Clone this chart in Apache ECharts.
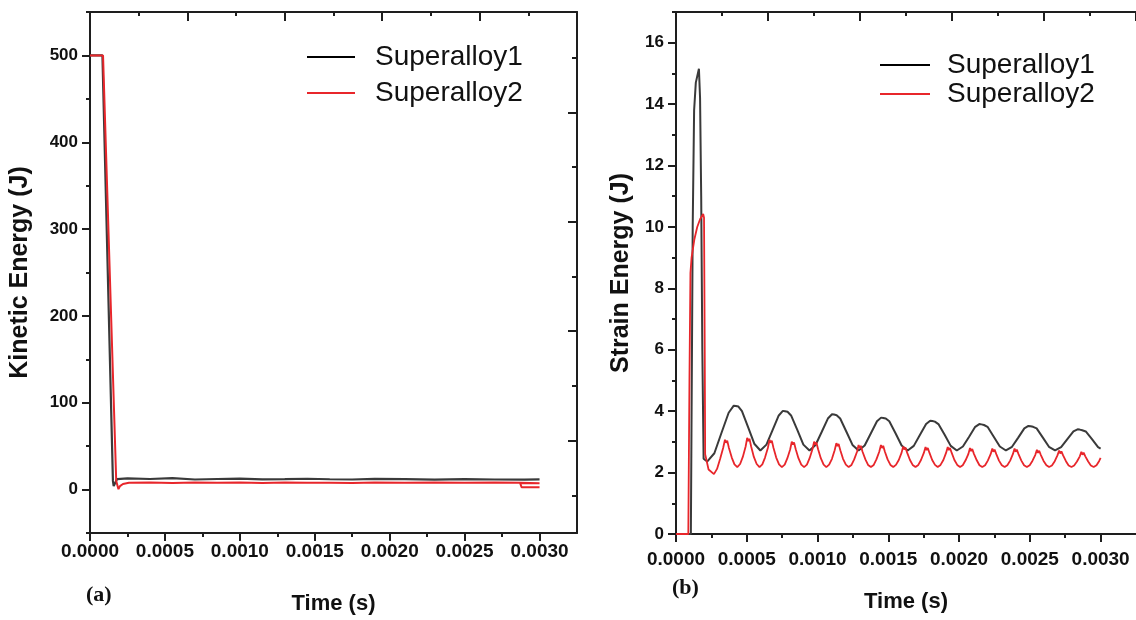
<!DOCTYPE html>
<html>
<head>
<meta charset="utf-8">
<script src="https://cdn.jsdelivr.net/npm/echarts@6/dist/echarts.min.js"></script>
<style>
html,body{margin:0;padding:0;background:#fff;}
#c{width:1136px;height:620px;}
</style>
</head>
<body>
<div id="c"></div>
<script>
// ---------- DATA ----------
const seriesNames = ['Superalloy1', 'Superalloy2'];
const xTickLabels = ['0.0000','0.0005','0.0010','0.0015','0.0020','0.0025','0.0030'];
const xTickValues = [0, 0.0005, 0.001, 0.0015, 0.002, 0.0025, 0.003];
const keTickValues = [0, 100, 200, 300, 400, 500];
const seTickValues = [0, 2, 4, 6, 8, 10, 12, 14, 16];

// (a) Kinetic energy, Superalloy1 [time, J]
const keS1 = [[0,500],[0.000083,500],[0.000153,10],[0.000158,4],[0.000165,3.5],[0.00018,12],[0.00019,12.6],
  [0.00025,12.8],[0.0004,12.2],[0.00055,13.2],[0.0007,11.6],[0.00085,12.2],[0.001,12.6],[0.00115,11.8],
  [0.0013,12.0],[0.00145,12.5],[0.0016,11.9],[0.00175,11.6],[0.0019,12.4],[0.0021,12.1],[0.0023,11.5],
  [0.0025,12.0],[0.0027,11.6],[0.0029,11.4],[0.003,11.8]];
// (a) Kinetic energy, Superalloy2
const keS2 = [[0,500],[0.000087,500],[0.000175,10],[0.00019,0.5],[0.0002,4],[0.00022,6.5],[0.00026,7.8],
  [0.0004,8.2],[0.00055,7.6],[0.0007,8.3],[0.00085,7.8],[0.001,8.1],[0.00115,7.6],[0.0013,8.2],[0.00145,7.9],
  [0.0016,8.0],[0.00175,7.6],[0.0019,8.1],[0.0021,7.8],[0.0023,8.2],[0.0025,7.8],[0.0027,8.1],[0.00287,7.8],
  [0.003,7.4],[0.00287,7.6],[0.00288,2.8],[0.003,2.6]];

// (b) Strain energy, Superalloy1
const seS1 = [[0,0],[0.000105,0],[0.000118,10],[0.000128,13.8],[0.00014,14.7],[0.000162,15.15],[0.00017,14.2],
  [0.000178,11],[0.000186,6],[0.000195,2.45],[0.00022,2.36],
  [0.000271,2.63],[0.000321,3.29],[0.000372,3.95],[0.000408,4.18],[0.000415,4.22],[0.000423,4.17],[0.000431,4.21],[0.000441,4.15],
  [0.000466,4.0],[0.00051,3.47],[0.000553,2.94],[0.000596,2.72],
  [0.000639,2.91],[0.000683,3.39],[0.000726,3.86],[0.000755,4.01],[0.000762,4.05],[0.00077,4.0],[0.000778,4.04],[0.000788,3.98],
  [0.000813,3.86],[0.000857,3.39],[0.0009,2.91],[0.000943,2.72],
  [0.000986,2.9],[0.00103,3.33],[0.001073,3.76],[0.001102,3.9],[0.001109,3.94],[0.001117,3.89],[0.001125,3.93],[0.001135,3.87],
  [0.00116,3.76],[0.001204,3.33],[0.001247,2.9],[0.00129,2.72],
  [0.001333,2.88],[0.001377,3.28],[0.00142,3.67],[0.001449,3.79],[0.001456,3.83],[0.001464,3.78],[0.001472,3.82],[0.001482,3.76],
  [0.001507,3.67],[0.001551,3.28],[0.001594,2.88],[0.001637,2.72],
  [0.00168,2.87],[0.001724,3.23],[0.001767,3.58],[0.001796,3.69],[0.001803,3.73],[0.001811,3.68],[0.001819,3.72],[0.001829,3.66],
  [0.001854,3.58],[0.001898,3.23],[0.001941,2.87],[0.001984,2.72],
  [0.002027,2.85],[0.002071,3.17],[0.002114,3.49],[0.002143,3.58],[0.00215,3.62],[0.002158,3.57],[0.002166,3.61],[0.002176,3.55],
  [0.002201,3.49],[0.002245,3.17],[0.002288,2.85],[0.002331,2.72],
  [0.002374,2.84],[0.002418,3.14],[0.002461,3.44],[0.00249,3.52],[0.002497,3.56],[0.002505,3.51],[0.002513,3.55],[0.002523,3.49],
  [0.002548,3.44],[0.002592,3.14],[0.002635,2.84],[0.002678,2.72],
  [0.002721,2.83],[0.002765,3.09],[0.002808,3.34],[0.002837,3.41],[0.002844,3.45],[0.002852,3.4],[0.00286,3.44],[0.00287,3.38],
  [0.002895,3.34],[0.002939,3.09],[0.002982,2.83],[0.003,2.78]];

// (b) Strain energy, Superalloy2
const seS2 = [[0,0],[0.000087,0],[0.000095,5],[0.000102,8.5],[0.00011,9.0],[0.00013,9.6],[0.00015,10.0],[0.00017,10.25],
  [0.000192,10.42],[0.000198,10.3],[0.000203,6],[0.000206,2.6],[0.00023,2.1],[0.000268,1.95],
  [0.00029,2.12],[0.000312,2.45],[0.000333,2.8],[0.000346,3.07],[0.000354,2.97],[0.000362,3.04],[0.000374,2.8],[0.000394,2.49],[0.000413,2.27],[0.000433,2.18],
  [0.000453,2.28],[0.000472,2.51],[0.000492,2.85],[0.000503,3.13],[0.000511,3.03],[0.000519,3.1],[0.000531,2.85],[0.00055,2.51],[0.00057,2.28],[0.00059,2.18],
  [0.00061,2.27],[0.000629,2.49],[0.000649,2.8],[0.000661,3.07],[0.000669,2.97],[0.000677,3.04],[0.000689,2.8],[0.000708,2.49],[0.000728,2.27],[0.000748,2.18],
  [0.000768,2.26],[0.000787,2.47],[0.000807,2.76],[0.000818,3.01],[0.000826,2.91],[0.000834,2.98],[0.000846,2.76],[0.000865,2.47],[0.000885,2.26],[0.000905,2.18],
  [0.000925,2.26],[0.000944,2.47],[0.000964,2.76],[0.000976,3.01],[0.000984,2.91],[0.000992,2.98],[0.001004,2.76],[0.001023,2.47],[0.001043,2.26],[0.001062,2.18],
  [0.001082,2.26],[0.001102,2.45],[0.001121,2.73],[0.001133,2.96],[0.001141,2.86],[0.001149,2.93],[0.001161,2.73],[0.00118,2.45],[0.0012,2.26],[0.00122,2.18],
  [0.00124,2.25],[0.001259,2.43],[0.001279,2.68],[0.00129,2.9],[0.001298,2.8],[0.001306,2.87],[0.001318,2.68],[0.001338,2.43],[0.001357,2.25],[0.001377,2.18],
  [0.001397,2.25],[0.001416,2.43],[0.001436,2.68],[0.001448,2.9],[0.001456,2.8],[0.001464,2.87],[0.001476,2.68],[0.001495,2.43],[0.001515,2.25],[0.001535,2.18],
  [0.001554,2.25],[0.001574,2.41],[0.001594,2.65],[0.001605,2.85],[0.001613,2.75],[0.001621,2.82],[0.001633,2.65],[0.001653,2.41],[0.001672,2.25],[0.001692,2.18],
  [0.001712,2.25],[0.001731,2.41],[0.001751,2.64],[0.001763,2.83],[0.001771,2.73],[0.001779,2.8],[0.001791,2.64],[0.00181,2.41],[0.00183,2.25],[0.001849,2.18],
  [0.001869,2.25],[0.001889,2.41],[0.001908,2.64],[0.00192,2.83],[0.001928,2.73],[0.001936,2.8],[0.001948,2.64],[0.001967,2.41],[0.001987,2.25],[0.002007,2.18],
  [0.002026,2.24],[0.002046,2.4],[0.002066,2.61],[0.002077,2.8],[0.002085,2.7],[0.002093,2.77],[0.002105,2.61],[0.002125,2.4],[0.002144,2.24],[0.002164,2.18],
  [0.002184,2.24],[0.002203,2.39],[0.002223,2.6],[0.002235,2.78],[0.002243,2.68],[0.002251,2.75],[0.002263,2.6],[0.002282,2.39],[0.002302,2.24],[0.002322,2.18],
  [0.002341,2.24],[0.002361,2.39],[0.00238,2.6],[0.002392,2.78],[0.0024,2.68],[0.002408,2.75],[0.00242,2.6],[0.00244,2.39],[0.002459,2.24],[0.002479,2.18],
  [0.002499,2.24],[0.002518,2.38],[0.002538,2.57],[0.00255,2.74],[0.002558,2.64],[0.002566,2.71],[0.002578,2.57],[0.002597,2.38],[0.002617,2.24],[0.002636,2.18],
  [0.002656,2.23],[0.002676,2.37],[0.002695,2.56],[0.002707,2.72],[0.002715,2.62],[0.002723,2.69],[0.002735,2.56],[0.002755,2.37],[0.002774,2.23],[0.002794,2.18],
  [0.002813,2.23],[0.002833,2.36],[0.002853,2.53],[0.002864,2.68],[0.002872,2.58],[0.00288,2.65],[0.002892,2.53],[0.002912,2.36],[0.002931,2.23],[0.002951,2.18],
  [0.002971,2.24],[0.00299,2.38],[0.003,2.48]];

// ---------- STYLE ----------
const C1 = '#3a3a3a', C2 = '#e8262b', AX = '#1e1e1e';
const FF = '"Liberation Sans", Arial, Helvetica, sans-serif';
const numFontY = {fontFamily:FF, fontWeight:'bold', fontSize:17, color:'#111'};
const numFontX = {fontFamily:FF, fontWeight:'bold', fontSize:19, color:'#111'};
const nameFont = {fontFamily:FF, fontWeight:'bold', fontSize:25, color:'#111'};
const nameFontX = {fontFamily:FF, fontWeight:'bold', fontSize:22, color:'#111'};
const line = {show:true, onZero:false, lineStyle:{color:AX, width:2}};
const noLine = {show:false, onZero:false};
const tick = (len, inside, custom) => {
  const t = {show:true, inside:inside, length:len, lineStyle:{color:AX, width:2}};
  if (custom) t.customValues = custom;
  return t;
};
const xFmt = v => { const k = Math.round(v/0.00025); return (k % 2 === 0) ? (xTickLabels[k/2] || '') : ''; };

const chart = echarts.init(document.getElementById('c'), null, {renderer:'canvas'});
const grids = [
  {left:90, top:12, width:487, height:524},
  {left:676, top:12, width:469, height:522}
];

function xAxesFor(g, labelMargin, nameGap) {
  return [
    {type:'value', gridIndex:g, position:'bottom', min:0, max:0.00325, interval:0.00025,
     axisLine:line, axisTick:tick(4,false), splitLine:{show:false},
     axisLabel:{...numFontX, margin:labelMargin, formatter:xFmt, showMaxLabel:false},
     name:'Time (s)', nameLocation:'middle', nameGap:nameGap, nameTextStyle:nameFontX},
    {type:'value', gridIndex:g, position:'bottom', min:0, max:0.00325, interval:0.0005,
     axisLine:noLine, axisTick:tick(8,false,xTickValues), axisLabel:{show:false}, splitLine:{show:false}},
    {type:'value', gridIndex:g, position:'top', min:0, max:5, interval:0.5,
     axisLine:line, axisTick:tick(4,true), axisLabel:{show:false}, splitLine:{show:false}},
    {type:'value', gridIndex:g, position:'top', min:0, max:5, interval:1,
     axisLine:noLine, axisTick:tick(9,true), axisLabel:{show:false}, splitLine:{show:false}}
  ];
}

const option = {
  animation:false,
  backgroundColor:'#fff',
  grid: grids,
  xAxis: [...xAxesFor(0, 9, 60), ...xAxesFor(1, 16, 57)],
  yAxis: [
    {type:'value', gridIndex:0, position:'left', min:-50, max:550, interval:50,
     axisLine:line, axisTick:tick(4,false), splitLine:{show:false},
     axisLabel:{...numFontY, margin:12, formatter: v => (Math.round(v) % 100 === 0 ? String(Math.round(v)) : '')},
     name:'Kinetic Energy (J)', nameLocation:'middle', nameGap:57, nameRotate:90, nameTextStyle:nameFont},
    {type:'value', gridIndex:0, position:'left', min:-50, max:550, interval:50,
     axisLine:noLine, axisTick:tick(8,false,keTickValues), axisLabel:{show:false}, splitLine:{show:false}},
    {type:'value', gridIndex:0, position:'right', min:0, max:4.764,
     axisLine:line, axisTick:tick(5,true,[0.345,1.345,2.345,3.345,4.345]), axisLabel:{show:false}, splitLine:{show:false}},
    {type:'value', gridIndex:0, position:'right', min:0, max:4.764,
     axisLine:noLine, axisTick:tick(9,true,[0.845,1.845,2.845,3.845]), axisLabel:{show:false}, splitLine:{show:false}},
    {type:'value', gridIndex:1, position:'left', min:0, max:17, interval:1,
     axisLine:line, axisTick:tick(4,false), splitLine:{show:false},
     axisLabel:{...numFontY, margin:12, formatter: v => (Math.round(v) % 2 === 0 && v < 17 ? String(Math.round(v)) : '')},
     name:'Strain Energy (J)', nameLocation:'middle', nameGap:42, nameRotate:90, nameTextStyle:nameFont},
    {type:'value', gridIndex:1, position:'left', min:0, max:17, interval:1,
     axisLine:noLine, axisTick:tick(8,false,seTickValues), axisLabel:{show:false}, splitLine:{show:false}}
  ],
  legend: [
    {left:302, top:38, orient:'vertical', itemGap:8, itemWidth:48, itemHeight:2, icon:'rect',
     textStyle:{fontFamily:FF, fontSize:28, color:'#111', padding:[0,0,0,15]},
     data:[{name:seriesNames[0], itemStyle:{color:'#000'}}, {name:seriesNames[1], itemStyle:{color:C2}}]},
    {left:875, top:46, orient:'vertical', itemGap:1, itemWidth:50, itemHeight:2, icon:'rect',
     textStyle:{fontFamily:FF, fontSize:28, color:'#111', padding:[0,0,0,12]},
     data:[{name:seriesNames[0], itemStyle:{color:'#000'}}, {name:seriesNames[1], itemStyle:{color:C2}}]}
  ],
  graphic: [
    {type:'text', left:86, top:584, style:{text:'(a)', font:'bold 22px "Liberation Serif", "Times New Roman", serif', fill:'#111'}},
    {type:'text', left:672, top:577, style:{text:'(b)', font:'bold 22px "Liberation Serif", "Times New Roman", serif', fill:'#111'}}
  ],
  series: [
    {name:seriesNames[0], type:'line', xAxisIndex:0, yAxisIndex:0, data:keS1, showSymbol:false, symbol:'none',
     lineStyle:{color:C1, width:2.2}, itemStyle:{color:C1}},
    {name:seriesNames[1], type:'line', xAxisIndex:0, yAxisIndex:0, data:keS2, showSymbol:false, symbol:'none',
     lineStyle:{color:C2, width:2}, itemStyle:{color:C2}},
    {name:seriesNames[0], type:'line', xAxisIndex:4, yAxisIndex:4, data:seS1, showSymbol:false, symbol:'none',
     lineStyle:{color:C1, width:2}, itemStyle:{color:C1}},
    {name:seriesNames[1], type:'line', xAxisIndex:4, yAxisIndex:4, data:seS2, showSymbol:false, symbol:'none',
     lineStyle:{color:C2, width:1.8}, itemStyle:{color:C2}}
  ]
};
chart.setOption(option);
</script>
</body>
</html>
